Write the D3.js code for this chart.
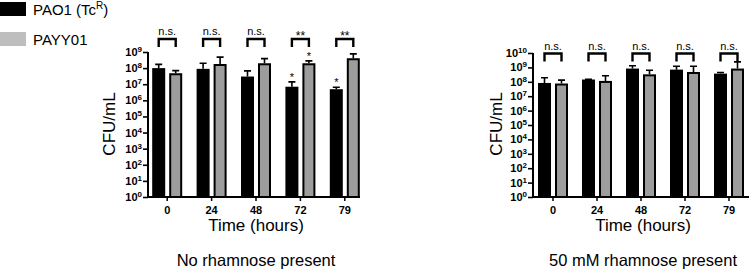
<!DOCTYPE html>
<html>
<head>
<meta charset="utf-8">
<script src="https://cdn.jsdelivr.net/npm/d3@7"></script>
<style>
  body { margin: 0; background: #fff; }
  svg text { font-family: "Liberation Sans", Arial, sans-serif; }
</style>
</head>
<body>
<div id="container"></div>
<script>
/* DATA */
const times = ["0", "24", "48", "72", "79"];
const seriesNames = ["PAO1 (Tc", "PAYY01"];

// no rhamnose: bar heights and top of error bars (CFU/mL)
const noRhaPAO1 = [1.0e8, 9e7, 3e7, 7e6, 4.9e6];
const noRhaPAO1Top = [1.7e8, 2e8, 6.7e7, 1.4e7, 6.5e6];
const noRhaPAYY = [4.8e7, 1.8e8, 2e8, 2e8, 4.1e8];
const noRhaPAYYTop = [7e7, 4.8e8, 3.9e8, 2.8e8, 7.6e8];
const noRhaSig = ["n.s.", "n.s.", "n.s.", "**", "**"];
const noRhaStarPAO1 = ["", "", "", "*", "*"];
const noRhaStarPAYY = ["", "", "", "*", ""];

// 50 mM rhamnose
const rhaPAO1 = [8.3e7, 1.44e8, 8.3e8, 7e8, 3.7e8];
const rhaPAO1Top = [1.9e8, 1.5e8, 1.3e9, 1.2e9, 4.4e8];
const rhaPAYY = [7.6e7, 1.15e8, 3.3e8, 4.8e8, 8.3e8];
const rhaPAYYTop = [1.3e8, 2.6e8, 6.3e8, 1.2e9, 2.4e9];
const rhaSig = ["n.s.", "n.s.", "n.s.", "n.s.", "n.s."];

const width = 750, height = 271;
const svg = d3.select("#container").append("svg")
  .attr("width", width).attr("height", height);

const grayBar = "#9d9d9d";

function drawPanel(p) {
  const g = svg.append("g");
  const x = d3.scaleBand().domain(times).range([p.x0, p.x1]);
  const y = d3.scaleLog().domain([1, Math.pow(10, p.maxExp)]).range([197, p.yTop]);
  const rows = times.map((t, i) => ({
    t: t, a: p.a[i], aTop: p.aTop[i], b: p.b[i], bTop: p.bTop[i],
    sig: p.sig[i], sa: p.sa ? p.sa[i] : "", sb: p.sb ? p.sb[i] : ""
  }));
  const cx = d => x(d.t) + x.bandwidth() / 2;

  // error bars (upwards only)
  const err = (xf, vf, tf) => {
    g.selectAll(null).data(rows).join("path")
      .attr("d", d => `M${xf(d)},${y(vf(d))}V${y(tf(d))}M${xf(d) - 3.5},${y(tf(d))}H${xf(d) + 3.5}`)
      .attr("stroke", "#000").attr("stroke-width", 1.6).attr("fill", "none");
  };
  err(d => cx(d) - 8.5, d => d.a, d => d.aTop);
  err(d => cx(d) + 8.5, d => d.b, d => d.bTop);

  // bars
  g.selectAll("rect.a").data(rows).join("rect").attr("class", "a")
    .attr("x", d => cx(d) - 15).attr("width", 13)
    .attr("y", d => y(d.a)).attr("height", d => 197 - y(d.a))
    .attr("fill", "#000");
  g.selectAll("rect.b").data(rows).join("rect").attr("class", "b")
    .attr("x", d => cx(d) + 3).attr("width", 11)
    .attr("y", d => y(d.b) + 1).attr("height", d => 197 - y(d.b) - 1)
    .attr("fill", grayBar).attr("stroke", "#000").attr("stroke-width", 2);

  // stars over bars
  g.selectAll("text.sa").data(rows).join("text").attr("class", "sa")
    .attr("x", d => cx(d) - 8.5).attr("y", d => y(d.aTop) - 1)
    .attr("text-anchor", "middle").attr("font-size", 11).text(d => d.sa);
  g.selectAll("text.sb").data(rows).join("text").attr("class", "sb")
    .attr("x", d => cx(d) + 8.5).attr("y", d => y(d.bTop) - 1)
    .attr("text-anchor", "middle").attr("font-size", 11).text(d => d.sb);

  // significance brackets
  g.selectAll("path.br").data(rows).join("path").attr("class", "br")
    .attr("d", d => `M${cx(d) - 8.5},${p.brY + 8}V${p.brY}H${cx(d) + 8.5}V${p.brY + 8}`)
    .attr("stroke", "#000").attr("stroke-width", 2.4).attr("fill", "none");
  g.selectAll("text.sig").data(rows).join("text").attr("class", "sig")
    .attr("x", d => cx(d)).attr("y", d => d.sig === "n.s." ? p.brY - 4 : p.brY + 1)
    .attr("text-anchor", "middle").attr("font-size", d => d.sig === "n.s." ? 11 : 12)
    .text(d => d.sig);

  // y axis
  const ticks = d3.range(0, p.maxExp + 1).map(e => Math.pow(10, e));
  const yAxis = d3.axisLeft(y).tickValues(ticks).tickSize(5).tickFormat("");
  const ya = g.append("g").attr("transform", `translate(${p.axisX},0)`).call(yAxis);
  ya.select(".domain").attr("stroke-width", 2).attr("d", `M0,${p.yTop}V198`);
  ya.selectAll(".tick line").attr("stroke-width", 1.6);
  ya.selectAll(".tick").append("text")
    .attr("x", -6).attr("y", 3.5).attr("fill", "#000")
    .attr("text-anchor", "end").attr("font-weight", "bold").attr("font-size", 11)
    .each(function(d) {
      const t = d3.select(this);
      t.append("tspan").text("10");
      t.append("tspan").attr("dy", -4).attr("font-size", 8).text(Math.round(Math.log10(d)));
    });

  // x axis
  const xAxis = d3.axisBottom(x).tickSize(4).tickPadding(5);
  const xa = g.append("g").attr("transform", "translate(0,197)").call(xAxis);
  xa.select(".domain").attr("stroke-width", 2).attr("d", `M${p.axisX},0H${p.xEnd}`);
  xa.selectAll(".tick line").attr("stroke-width", 1.5);
  xa.selectAll(".tick text").attr("font-weight", "bold").attr("font-size", 11)
    .attr("font-family", "Liberation Sans, Arial, sans-serif").attr("fill", "#000");

  // axis titles
  g.append("text").attr("transform", `translate(${p.yLabX},124) rotate(-90)`)
    .attr("text-anchor", "middle").attr("font-size", 17).text("CFU/mL");
  g.append("text").attr("x", p.midX).attr("y", 231)
    .attr("text-anchor", "middle").attr("font-size", 17).text("Time (hours)");
  g.append("text").attr("x", p.midX).attr("y", 266)
    .attr("text-anchor", "middle").attr("font-size", 16.5).text(p.title);
}

drawPanel({
  x0: 145, x1: 367, axisX: 148, xEnd: 360, maxExp: 9, yTop: 52,
  a: noRhaPAO1, aTop: noRhaPAO1Top, b: noRhaPAYY, bTop: noRhaPAYYTop,
  sig: noRhaSig, sa: noRhaStarPAO1, sb: noRhaStarPAYY,
  brY: 39, yLabX: 115, midX: 256, title: "No rhamnose present"
});
drawPanel({
  x0: 531, x1: 751, axisX: 533, xEnd: 749, maxExp: 10, yTop: 53,
  a: rhaPAO1, aTop: rhaPAO1Top, b: rhaPAYY, bTop: rhaPAYYTop,
  sig: rhaSig, brY: 53.5, yLabX: 502, midX: 643, title: "50 mM rhamnose present"
});

// legend
const legend = svg.append("g");
legend.selectAll("rect").data(seriesNames).join("rect")
  .attr("x", 0).attr("y", (d, i) => 2 + i * 30).attr("width", 26).attr("height", 14)
  .attr("fill", (d, i) => i === 0 ? "#000" : "#bebebe");
legend.selectAll("text").data(seriesNames).join("text")
  .attr("x", 33).attr("y", (d, i) => 15 + i * 30).attr("font-size", 15)
  .each(function(d, i) {
    const t = d3.select(this);
    t.append("tspan").text(d);
    if (i === 0) {
      t.append("tspan").attr("dy", -6).attr("font-size", 10).text("R");
      t.append("tspan").attr("dy", 6).text(")");
    }
  });
</script>
</body>
</html>
